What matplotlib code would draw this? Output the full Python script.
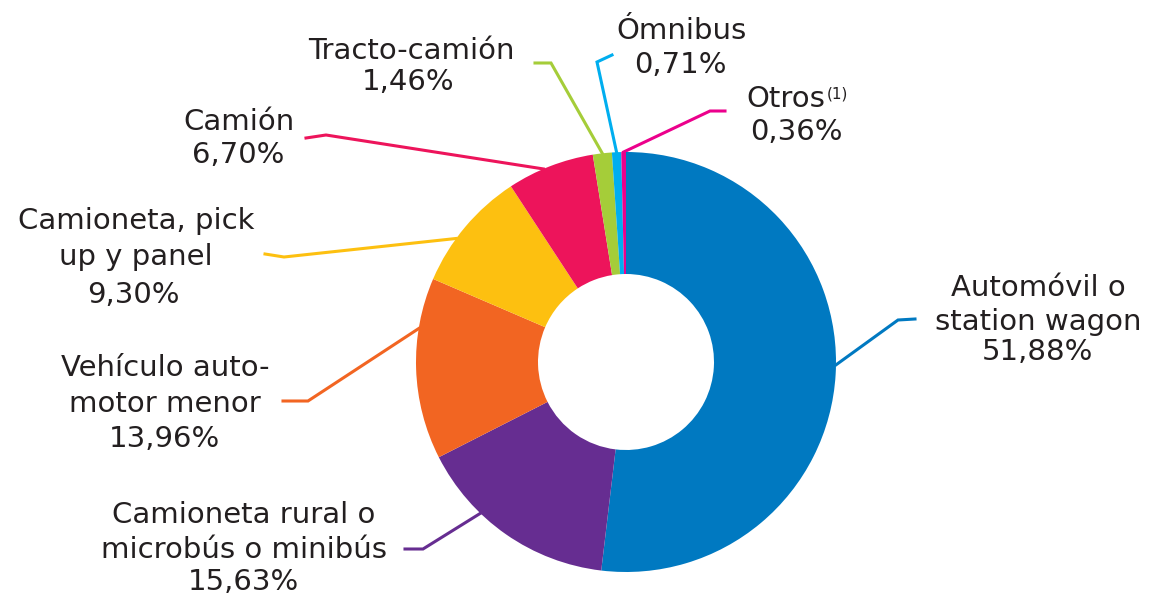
import numpy as np
import matplotlib.pyplot as plt

# Parque vehicular por tipo de vehículo (%)
categories = ["Automóvil o\nstation wagon",
              "Camioneta rural o\nmicrobús o minibús",
              "Vehículo auto-\nmotor menor",
              "Camioneta, pick\nup y panel",
              "Camión",
              "Tracto-camión",
              "Ómnibus",
              "Otros"]
shares = [51.88, 15.63, 13.96, 9.30, 6.70, 1.46, 0.71, 0.36]
colors = ["#0079c1", "#662d91", "#f26522", "#fdc010",
          "#ed145b", "#a5cd39", "#00aeef", "#ec008c"]

W, H = 1155, 596
TXT = "#231f20"

# label placement in pixel coords (y from top):
# text centre x, name baselines, percentage x, percentage baseline
name_x = [1038, 244, 165, 136, 239, 411, 681, 786]
name_y = [[296, 330], [523, 558], [376, 412], [229, 265], [130], [59], [39], [107]]
pct_x = [1037, 243, 164, 133, 238, 408, 680, 796]
pct_y = [360, 590, 447, 303, 163, 90, 73, 140]
# leader lines: elbow, end and a small angular nudge of the anchor
elbows = [(898, 320), (423, 549), (308, 401), (284, 257),
          (326, 135), (551, 63), (597, 62), (710, 111)]
ends = [(915, 319), (405, 549), (283, 401), (265, 254),
        (306, 138), (535, 63), (612, 55), (725, 111)]
nudge = [-2.6, 9, 11, -4, -2, 0, 0, 0]


def fy(y):
    return H - y


cx, cy = 626, fy(362)
r_out, r_in = 210, 88

fig = plt.figure(figsize=(W / 100, H / 100), dpi=100)
ax = fig.add_axes([0, 0, 1, 1])

ax.pie(shares, colors=colors, startangle=90, counterclock=False,
       radius=r_out, center=(cx, cy), frame=True,
       wedgeprops=dict(width=r_out - r_in, linewidth=0))

cum = np.cumsum([0] + shares[:-1])
for i, name in enumerate(categories):
    theta = np.radians(360 * (cum[i] + shares[i] / 2) / 100 + nudge[i])
    x0 = cx + r_out * np.sin(theta)
    y0 = cy + r_out * np.cos(theta)
    ax.plot([x0, elbows[i][0], ends[i][0]],
            [y0, fy(elbows[i][1]), fy(ends[i][1])],
            color=colors[i], lw=2.2, solid_joinstyle="miter", zorder=0)

    lines = name.split("\n")
    for line, yb in zip(lines, name_y[i]):
        t = ax.text(name_x[i], fy(yb), line, ha="center", va="baseline",
                    fontsize=21, color=TXT)
    if name == "Otros":
        ax.annotate("(1)", xy=(1.0, 1.0), xycoords=t, xytext=(1, -1),
                    textcoords="offset points", ha="left", va="top",
                    fontsize=11, color=TXT)
    pct = f"{shares[i]:.2f}".replace(".", ",") + "%"
    ax.text(pct_x[i], fy(pct_y[i]), pct, ha="center", va="baseline",
            fontsize=21, color=TXT)

ax.set_xlim(0, W)
ax.set_ylim(0, H)
ax.set_aspect("equal")
ax.axis("off")

fig.savefig("out.png", dpi=100)
